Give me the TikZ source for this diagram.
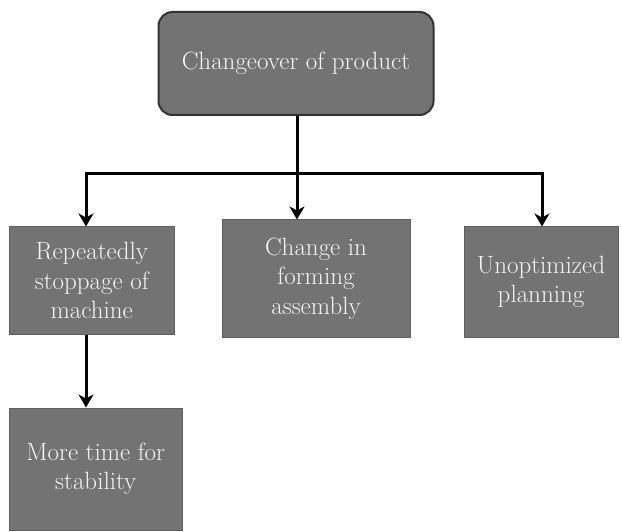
\documentclass[tikz,border=0pt]{standalone}
\usetikzlibrary{arrows.meta}
\definecolor{boxfill}{HTML}{737373}
\definecolor{boxline}{HTML}{5E5E5E}
\definecolor{txt}{HTML}{F4F4F4}
\tikzset{
  box/.style={draw=boxline, line width=1pt, fill=boxfill, text=txt, align=center,
    inner sep=0pt, font=\fontsize{25}{29.5}\selectfont},
  topbox/.style={box, draw=black!80, line width=2pt, rounded corners=14pt},
  conn/.style={line width=3pt, black},
  arr/.style={conn, -{Stealth[length=13pt,width=15pt,inset=4pt]}}
}
\begin{document}
\begin{tikzpicture}[x=1pt,y=-1pt]
\useasboundingbox (0,0) rectangle (622,532);
\node[topbox, minimum width=275pt, minimum height=103pt] (top) at (296,63.5) {Changeover of product};
\node[box, minimum width=164.5pt, minimum height=107pt] (b1) at (91.75,280.5) {Repeatedly\\stoppage of\\machine};
\node[box, minimum width=188pt, minimum height=117pt] (b2) at (316,278.5) {Change in\\forming\\assembly};
\node[box, minimum width=154pt, minimum height=110pt] (b3) at (541,282) {Unoptimized\\planning};
\node[box, minimum width=172.5pt, minimum height=122pt] (b4) at (95.75,469) {More time for\\stability};
\coordinate (jc) at (297,174);
\coordinate (jl) at (86,174);
\coordinate (jr) at (542,174);
\draw[conn] (jc |- top.south) -- (jc);
\draw[conn, line cap=rect] (jl) -- (jr);
\draw[arr] (jl) -- (jl |- b1.north);
\draw[arr] (jc) -- (jc |- b2.north);
\draw[arr] (jr) -- (jr |- b3.north);
\draw[arr] (jl |- b1.south) -- (jl |- b4.north);
\end{tikzpicture}
\end{document}
